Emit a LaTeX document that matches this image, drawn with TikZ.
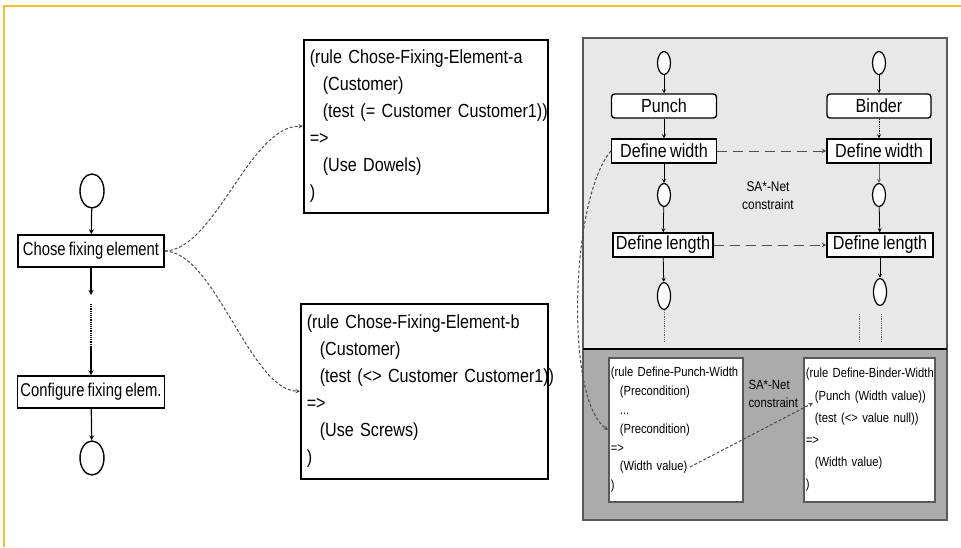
\documentclass[tikz,border=0pt]{standalone}
\usepackage{fontspec}
\setmainfont[FakeStretch=0.85,WordSpace=0.75]{Liberation Sans}
\newfontfamily\condfont[FakeStretch=0.8,WordSpace=0.75]{Liberation Sans}
\usetikzlibrary{shapes.geometric}
\definecolor{frameyellow}{RGB}{242,192,40}
\newcommand{\rind}{\hspace*{13pt}}
\newcommand{\sind}{\hspace*{9pt}}

\begin{document}
\begin{tikzpicture}[x=1pt,y=-1pt,>=stealth,
  flowbox/.style={draw,line width=1.5pt,fill=white,inner sep=0pt,minimum height=32pt,font=\condfont\fontsize{18.5}{20}\selectfont},
  endpt/.style={draw,ellipse,line width=1.4pt,fill=white,inner sep=0pt,minimum width=24pt,minimum height=34pt},
  smallendpt/.style={endpt,line width=1.2pt,minimum width=13pt,minimum height=23pt},
  taskbox/.style={draw,line width=1.4pt,fill=white,inner sep=0pt,minimum height=24pt,font=\fontsize{19}{21}\selectfont},
  rulebox/.style={draw,line width=1.5pt,fill=white,anchor=north west,align=left,inner xsep=6pt,inner ysep=0pt,font=\fontsize{19}{27}\selectfont},
  smallrule/.style={draw=black!65,line width=1.8pt,fill=white,anchor=north west,align=left,inner xsep=2pt,inner ysep=0pt},
  link/.style={->,densely dashed,black!70,line width=1pt},
  netlink/.style={->,dash pattern=on 10pt off 6pt,black!70,line width=1pt}]
  \useasboundingbox (0,0) rectangle (961,547);
  \draw[frameyellow,line width=2pt] (961,6) -- (4,6) -- (4,547);

  % left flow
  \node[endpt] (start) at (92,191) {};
  \node[flowbox,minimum width=146pt] (chose) at (91,251) {Chose fixing element};
  \node[flowbox,minimum width=147pt] (config) at (91,392) {Configure fixing elem.};
  \node[endpt] (end) at (92,458) {};
  \coordinate (gapa) at (91,295);
  \coordinate (gapb) at (91,304);
  \coordinate (gapc) at (91,346);
  \draw[->,line width=1.2pt] (start) -- (chose);
  \draw[->,line width=1.2pt] (chose) -- (gapa);
  \draw[densely dotted,line width=1.2pt] (gapb) -- (gapc);
  \draw[->,line width=1.2pt] (gapc) -- (config);
  \draw[->,line width=1.2pt] (config) -- (end);

  % rules
  \node[rulebox,text width=232pt,minimum height=173pt] (rulea) at (303,39) {(rule Chose-Fixing-Element-a\\
    \rind(Customer)\\
    \rind\mbox{(test (= Customer Customer1))}\\
    =>\\
    \rind(Use Dowels)\\
    )};
  \node[rulebox,text width=235pt,minimum height=175pt] (ruleb) at (300,303) {(rule Chose-Fixing-Element-b\\
    \rind(Customer)\\
    \rind\mbox{(test (<> Customer Customer1))}\\
    =>\\
    \rind(Use Screws)\\
    )};
  \draw[link] (chose.east) .. controls (215,250) and (250,125) .. (rulea.west);
  \draw[link] (chose.east) .. controls (215,252) and (250,390) .. (ruleb.west);

  % SA*-Net panel
  \fill[black!9] (583,38) rectangle (947,349);
  \fill[black!33] (583,349) rectangle (947,520);
  \draw[black!65,line width=1.6pt] (583,38) rectangle (947,520);
  \draw[line width=1.6pt] (583,349) -- (947,349);

  \node[smallendpt] (topL) at (664,63) {};
  \node[taskbox,rounded corners=3pt,minimum width=105pt] (punch) at (664,106) {Punch};
  \node[taskbox,minimum width=105pt] (dwL) at (664,151) {Define width};
  \node[smallendpt] (midL) at (664,195) {};
  \node[taskbox,minimum width=100pt] (dlL) at (663,245) {Define length};
  \node[smallendpt,minimum height=27pt] (botL) at (664,296) {};
  \coordinate (dotL) at (664,342);

  \node[smallendpt] (topR) at (879,63) {};
  \node[taskbox,rounded corners=3pt,minimum width=104pt] (binder) at (879,106) {Binder};
  \node[taskbox,minimum width=104pt] (dwR) at (879,151) {Define width};
  \node[smallendpt] (midR) at (879,195) {};
  \node[taskbox,minimum width=106pt] (dlR) at (880,245) {Define length};
  \node[smallendpt,minimum height=27pt] (botR) at (880,292) {};
  \coordinate (dotRa) at (881,314);
  \coordinate (dotRb) at (881,342);
  \coordinate (dotXa) at (859,314);
  \coordinate (dotXb) at (859,342);

  \draw[->,thick] (topL) -- (punch);
  \draw[->,thick] (punch) -- (dwL);
  \draw[->,thick] (dwL) -- (midL);
  \draw[->,thick] (midL) -- (dlL);
  \draw[->,thick] (dlL) -- (botL);
  \draw[densely dotted,thick,black!60] (botL) -- (dotL);
  \draw[->,thick] (topR) -- (binder);
  \draw[->,densely dotted,thick] (binder) -- (dwR);
  \draw[->,thick,black!60] (dwR) -- (midR);
  \draw[->,thick] (midR) -- (dlR);
  \draw[->,thick] (dlR) -- (botR);
  \draw[densely dotted,thick,black!60] (dotRa) -- (dotRb);
  \draw[densely dotted,thick,black!60] (dotXa) -- (dotXb);

  \draw[netlink] (dwL) -- (dwR);
  \draw[netlink] (dlL) -- (dlR);
  \node[align=center,font=\fontsize{14}{18}\selectfont] (netc) at (768,196) {SA*-Net\\constraint};

  % lower rules
  \node[smallrule,text width=130pt,minimum height=144pt,font=\fontsize{13.2}{18.8}\selectfont] (prule) at (608,357) {\mbox{(rule Define-Punch-Width}\\
    \sind(Precondition)\\
    \sind...\\
    \sind(Precondition)\\
    =>\\
    \sind(Width value)\\
    )};
  \node[smallrule,text width=127pt,minimum height=144pt,font=\fontsize{13.2}{22.2}\selectfont] (brule) at (803,357) {\mbox{(rule Define-Binder-Width}\\
    \sind(Punch (Width value))\\
    \sind(test (<> value null))\\
    =>\\
    \sind(Width value)\\
    )};
  \node[anchor=west,align=left,font=\fontsize{13.4}{18}\selectfont] (rulec) at (745,394) {SA*-Net\\constraint};
  \coordinate (wv) at (690,467);
  \coordinate (pwv) at (813,403);
  \draw[link] (wv) -- (pwv);
  \draw[link] (dwL.west) .. controls (570,200) and (565,400) .. (prule.west);
\end{tikzpicture}
\end{document}
